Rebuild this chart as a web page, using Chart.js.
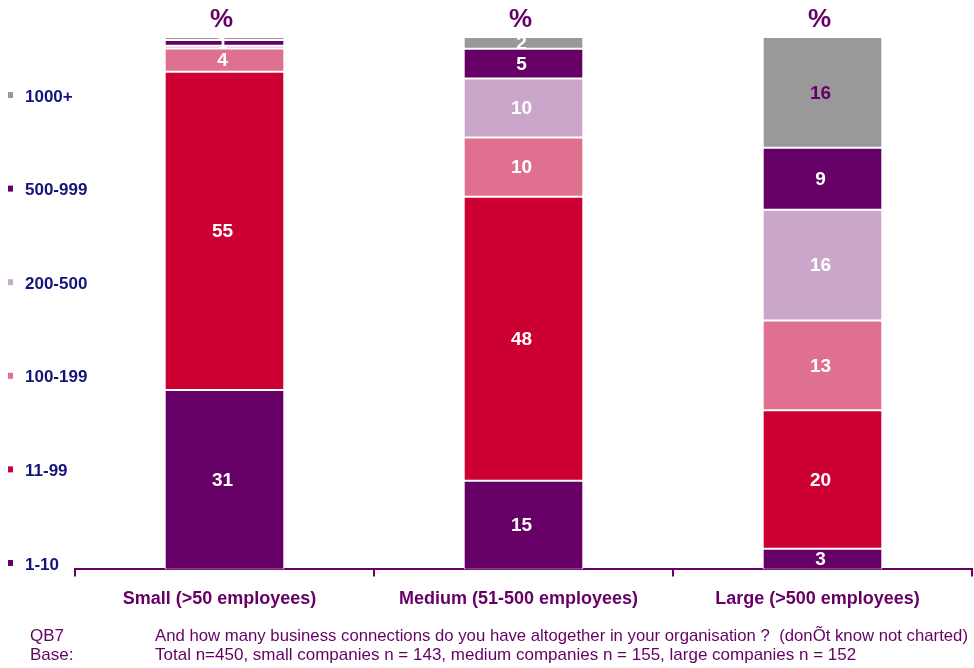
<!DOCTYPE html>
<html>
<head>
<meta charset="utf-8">
<script src="https://cdn.jsdelivr.net/npm/chart.js@4/dist/chart.umd.min.js"></script>
<style>
  html, body { margin: 0; padding: 0; background: #fff; }
  #wrap { position: relative; width: 974px; height: 668px; }
</style>
</head>
<body>
<div id="wrap"><canvas id="connChart"></canvas></div>
<script>
// company size groups and connection bands
const categories = ['Small (>50 employees)', 'Medium (51-500 employees)', 'Large (>500 employees)'];
const bands = ['1-10', '11-99', '100-199', '200-500', '500-999', '1000+'];

// % of each group (don't know excluded, so columns don't sum to 100)
const band1to10 = [31, 15, 3];
const band11to99 = [55, 48, 20];
const band100to199 = [4, 10, 13];
const band200to500 = [0.5, 10, 16];
const band500to999 = [1, 5, 9];
const band1000plus = [0.5, 2, 16];

const bandValues = [band1to10, band11to99, band100to199, band200to500, band500to999, band1000plus];
const bandColors = ['#660066', '#cc0033', '#e07090', '#cba6cb', '#660066', '#999999'];

const PURPLE = '#660066';
const NAVY = '#14147a';
const FONT = '"Liberation Sans", Arial, sans-serif';

// rescale each column so the charted answers fill the full height
const totals = categories.map((c, i) => bandValues.reduce((s, arr) => s + arr[i], 0));

const datasets = bands.map((b, k) => ({
    label: b,
    data: bandValues[k].map((v, i) => v / totals[i] * 100),
    raw: bandValues[k],
    backgroundColor: bandColors[k],
    borderColor: '#ffffff',
    borderWidth: 1,
    borderSkipped: false,
    categoryPercentage: 1,
    barPercentage: 0.4
}));

const overlay = {
    id: 'overlay',
    afterDatasetsDraw(chart) {
        const ctx = chart.ctx;
        ctx.save();
        ctx.textAlign = 'center';
        ctx.textBaseline = 'middle';

        // value labels inside each segment
        ctx.font = 'bold 19px ' + FONT;
        chart.data.datasets.forEach((ds, k) => {
            const meta = chart.getDatasetMeta(k);
            meta.data.forEach((bar, i) => {
                const v = ds.raw[i];
                if (v < 1) return;
                const isTopLarge = (k === bands.length - 1 && i === 2);
                ctx.fillStyle = isTopLarge ? PURPLE : '#ffffff';
                ctx.fillText(String(v), bar.x - 2, (bar.y + bar.base) / 2 + 1);
            });
        });

        // "%" over each column
        ctx.fillStyle = PURPLE;
        ctx.font = 'bold 26px ' + FONT;
        const meta0 = chart.getDatasetMeta(0);
        meta0.data.forEach(bar => ctx.fillText('%', bar.x - 3, 20));

        // band key down the left side
        ctx.textAlign = 'left';
        ctx.font = 'bold 17px ' + FONT;
        bands.forEach((b, k) => {
            const y = 565 - k * 93.6;
            ctx.fillStyle = bandColors[k];
            ctx.fillRect(8, y - 5, 5, 6);
            ctx.fillStyle = NAVY;
            ctx.fillText(b, 25, y);
        });

        // question and base notes
        ctx.fillStyle = PURPLE;
        ctx.font = '17px ' + FONT;
        ctx.fillText('QB7', 30, 636);
        ctx.fillText('Base:', 30, 655);
        ctx.fillText('And how many business connections do you have altogether in your organisation ?  (don\u00D5t know not charted)', 155, 636, 813);
        ctx.fillText('Total n=450, small companies n = 143, medium companies n = 155, large companies n = 152', 155, 655);
        ctx.restore();
    }
};

new Chart(document.getElementById('connChart'), {
    type: 'bar',
    data: { labels: categories, datasets: datasets },
    options: {
        responsive: true,
        maintainAspectRatio: false,
        animation: false,
        layout: { padding: { left: 75, right: 2, top: 37, bottom: 46 } },
        plugins: {
            legend: { display: false },
            tooltip: { enabled: false }
        },
        scales: {
            x: {
                stacked: true,
                offset: true,
                grid: {
                    display: true,
                    offset: true,
                    drawOnChartArea: false,
                    drawTicks: true,
                    tickLength: 7,
                    color: PURPLE,
                    lineWidth: 2
                },
                border: { display: true, color: PURPLE, width: 2 },
                ticks: {
                    color: PURPLE,
                    padding: 12,
                    labelOffset: -5,
                    font: { family: FONT, size: 18, weight: 'bold' }
                }
            },
            y: {
                stacked: true,
                display: false,
                min: 0,
                max: 100
            }
        }
    },
    plugins: [overlay]
});
</script>
</body>
</html>
